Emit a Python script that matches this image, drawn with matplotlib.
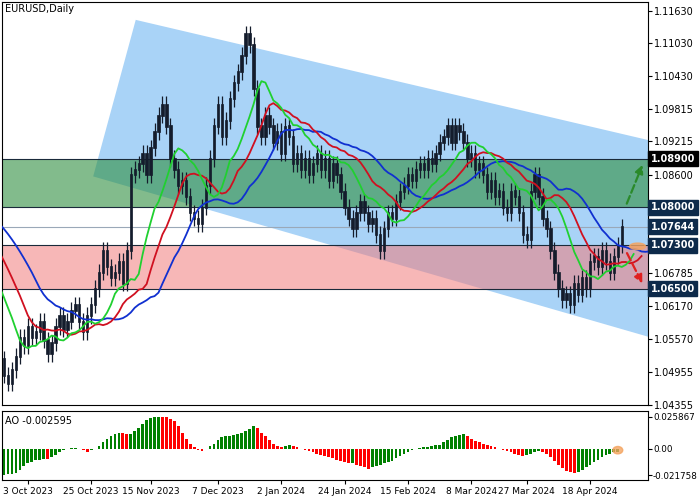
import numpy as np
import pandas as pd
import matplotlib
matplotlib.use("Agg")
import matplotlib.pyplot as plt
from matplotlib.patches import Polygon, Ellipse

prior_closes = [1.0800,1.0790,1.0770,1.0750,1.0730,1.0710,1.0690,1.0680,1.0660,1.0640,1.0620,1.0600,1.0580,1.0560,1.0540,1.0520]
closes = [1.0490,1.0475,1.0500,1.0525,1.0560,1.0545,1.0580,1.0560,1.0570,1.0590,
 1.0555,1.0530,1.0550,1.0580,1.0600,1.0575,1.0590,1.0610,1.0620,1.0590,1.0570,1.0600,1.0620,1.0650,1.0680,
 1.0720,1.0690,1.0670,1.0680,1.0700,1.0660,1.0720,
 1.0860,1.0870,1.0880,1.0900,1.0860,1.0910,1.0940,1.0970,1.0990,
 1.0950,1.0890,1.0870,1.0840,1.0850,1.0820,1.0790,1.0780,1.0770,1.0800,1.0840,
 1.0890,1.0950,1.0990,1.0930,1.0960,1.1000,1.1030,1.1050,1.1080,1.1120,1.1100,
 1.1020,1.0950,1.0930,1.0970,1.0950,1.0920,1.0940,1.0900,1.0950,1.0930,
 1.0880,1.0900,1.0870,1.0890,1.0860,1.0880,1.0900,1.0870,1.0890,1.0850,1.0880,1.0860,1.0830,
 1.0800,1.0780,1.0760,1.0790,1.0810,1.0790,1.0770,1.0780,1.0750,1.0720,1.0760,
 1.0790,1.0780,1.0810,1.0830,1.0840,1.0860,1.0850,1.0870,1.0880,1.0870,1.0890,1.0880,1.0900,1.0920,
 1.0930,1.0950,1.0920,1.0950,1.0940,1.0920,1.0890,1.0900,1.0870,1.0880,1.0860,
 1.0830,1.0850,1.0820,1.0830,1.0800,1.0790,1.0830,1.0820,1.0790,1.0750,1.0740,
 1.0830,1.0860,1.0820,1.0780,1.0760,1.0720,1.0680,1.0650,
 1.0630,1.0640,1.0620,1.0660,1.0640,1.0670,1.0650,1.0700,1.0710,1.0690,1.0720,1.0700,1.0680,1.0710,1.0730,1.0764]
wick = 0.0015

ao_milli = [-21.5,-21,-20.5,-19.5,-17,-14,-12,-10.5,-9.5,-9,-8.5,-8.7,-7,-5,-3,-1.5,-0.5,0.3,0.3,-0.5,
 -1.5,-2.5,-1,-0.5,2,5,8,10,12,13,12.5,12,12.2,14,17,20,23,25,25.8,25.9,25.8,
 25.5,24,22,18,13,8,4,1,-1,-2,
 -0.5,2,4,7,9,10,10.5,11,12,13,14,16,18,
 17,13,10,7,4,2,1.5,2,2.5,2,1,
 0,-1,-2,-3,-4,-5,-6,-7,-8,-9,-10,-11,-12,-11.5,-13,-14,-15,-16.5,
 -15,-14,-13,-12,-11,-10,-8,-6,-4,-2.5,-1,0,0.5,1,1.5,
 2,2.5,3,5,7,9,10,11,12,
 10,8,6,5,4,3,2,1,0,-1,-2,-3,
 -4,-5,-6,-5,-4,-3,-2,
 -2.5,-4,-7,-10,-13,-16,-18,-19,-19.5,
 -19,-17,-15,-13,-11,-9,-7,-5,-4,-3,-2.6]

tick_labels = ["3 Oct 2023","25 Oct 2023","15 Nov 2023","7 Dec 2023","2 Jan 2024","24 Jan 2024",
               "15 Feb 2024","8 Mar 2024","27 Mar 2024","18 Apr 2024"]
tick_pos = [6,22,37,54,70,86,102,118,132,148]
price_ticks = [1.11630,1.11030,1.10430,1.09815,1.09215,1.08600,1.06785,1.06170,1.05570,1.04955,1.04355]
levels = [1.0890,1.0800,1.0730,1.0650]
last_price = 1.07644

c = np.array(closes)
n = len(c)
o = np.r_[prior_closes[-1], c[:-1]]
hi = np.maximum(o, c) + wick
lo = np.minimum(o, c) - wick

allc = np.r_[prior_closes, c]
s = pd.Series(allc)
npri = len(prior_closes)
def line(p, shift):
    v = s.ewm(alpha=1/p, adjust=False).mean().values
    return np.arange(len(allc)) - npri + shift, v

fig = plt.figure(figsize=(7,5), dpi=100)
ax = fig.add_axes([0.003, 0.19, 0.922, 0.806])
ax2 = fig.add_axes([0.003, 0.04, 0.922, 0.138])
X0, X1 = -0.5, 162.5
Y0, Y1 = 1.0435, 1.1179
ax.set_xlim(X0, X1); ax.set_ylim(Y0, Y1)

poly = Polygon([(22.5,1.0857),(33.25,1.1146),(175,1.0903),(175,1.0535)], closed=True,
               facecolor="#a9d3f7", edgecolor="none", zorder=0)
ax.add_patch(poly)
ax.axhspan(1.0800,1.0890, color="#2f8f3f", alpha=0.6, zorder=1, lw=0)
ax.axhspan(1.0650,1.0730, color="#f27c7c", alpha=0.55, zorder=1, lw=0)
for L in levels:
    ax.axhline(L, color="#1a2a3a", lw=0.8, zorder=2)
ax.axhline(last_price, color="#9aa8b8", lw=0.8, zorder=2)

x = np.arange(n)
ax.vlines(x, lo, hi, color="#141c2c", lw=0.9, zorder=3)
ax.bar(x, np.abs(c-o)+0.0002, bottom=np.minimum(o, c)-0.0001, width=0.6, color="#141c2c",
       edgecolor="#141c2c", lw=0.5, zorder=4)

for p, sh, col in [(13,8,"#1030d0"),(8,5,"#d01020"),(5,3,"#20d030")]:
    xx, vv = line(p, sh)
    ax.plot(xx, vv, color=col, lw=1.3, zorder=5)

ax.annotate("", xy=(161.5,1.0883), xytext=(157,1.0802),
            arrowprops=dict(arrowstyle="-|>", color="#2a8a2a", lw=1.6, ls="--", mutation_scale=12), zorder=6)
ax.annotate("", xy=(161.5,1.0655), xytext=(157,1.0720),
            arrowprops=dict(arrowstyle="-|>", color="#e02020", lw=1.6, ls="--", mutation_scale=12), zorder=6)
ax.add_patch(Ellipse((160,1.0728), 4, 0.0012, color="#f4a460", alpha=0.8, zorder=6))

ax.yaxis.tick_right()
ax.set_yticks(price_ticks)
ax.set_yticklabels([f"{t:.5f}" for t in price_ticks], fontsize=7)
ax.tick_params(axis="y", length=3, pad=2)
ax.set_xticks([])
for L in levels + [last_price]:
    bg = "black" if L == 1.0890 else "#0d2a4a"
    ax.text(1.005, (L-Y0)/(Y1-Y0), f"{L:.5f}", transform=ax.transAxes, fontsize=7, color="white",
            va="center", ha="left", bbox=dict(boxstyle="square,pad=0.25", fc=bg, ec=bg), fontweight="bold")
ax.text(0.005, 0.995, "EURUSD,Daily", transform=ax.transAxes, fontsize=7, va="top")

ao = np.array(ao_milli) / 1000
xa = np.arange(len(ao))
cols = ["green" if i == 0 or ao[i] >= ao[i-1] else "red" for i in range(len(ao))]
ax2.bar(xa, ao, width=0.7, color=cols)
ax2.add_patch(Ellipse((xa[-1],ao[-1]/2), 2.5, 0.006, color="#f4a460", alpha=0.8))
ax2.set_xlim(X0, X1); ax2.set_ylim(-0.0255, 0.0305)
ax2.yaxis.tick_right()
ax2.set_yticks([0.025867, 0.0, -0.021758])
ax2.set_yticklabels(["0.025867","0.00","-0.021758"], fontsize=6.3)
ax2.tick_params(axis="y", length=3, pad=1)
ax2.set_xticks(tick_pos)
ax2.set_xticklabels(tick_labels, fontsize=6.5)
ax2.tick_params(axis="x", length=3, pad=2)
ax2.text(0.005, 0.93, "AO -0.002595", transform=ax2.transAxes, fontsize=7, va="top")
for a in (ax, ax2):
    for sp in a.spines.values(): sp.set_linewidth(0.8)

fig.savefig("out.png", dpi=100)
